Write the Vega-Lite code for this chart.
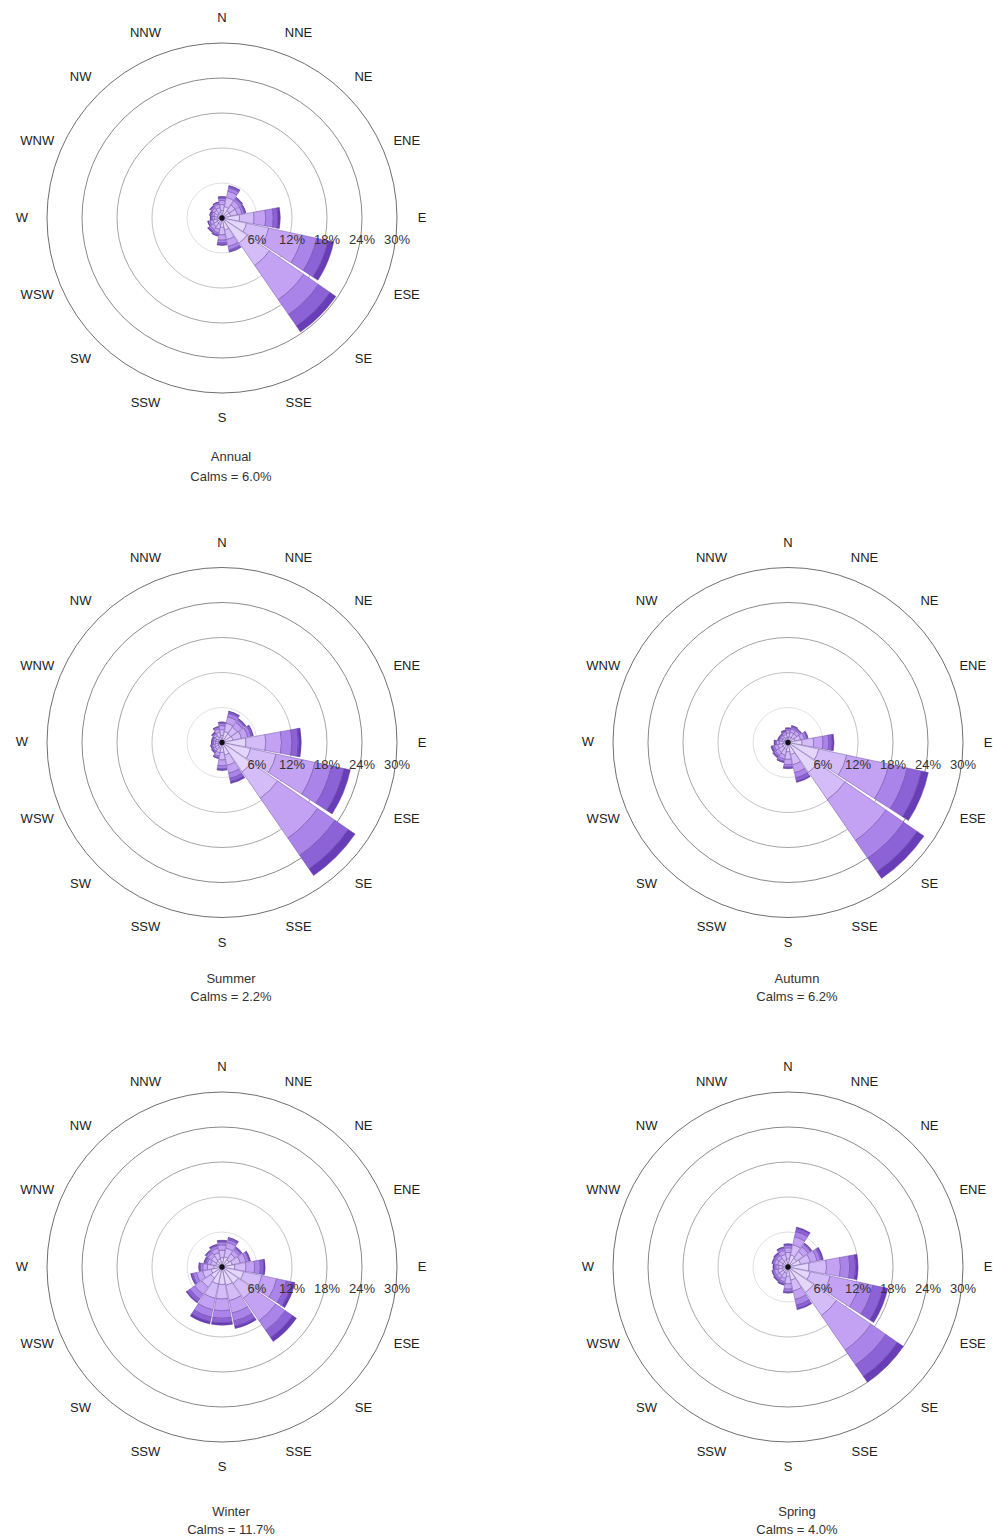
{
  "$schema": "https://vega.github.io/schema/vega-lite/v6.json",
  "padding": 0,
  "background": "white",
  "config": {"view": {"stroke": null}, "font": "Liberation Sans"},
  "columns": 2,
  "spacing": {"row": 88.5, "column": 122},
  "bounds": "flush",
  "datasets": {
    "rose": [
      {"s":"Annual","d":"N","b1":1.3,"b2":1.0,"b3":0.7,"b4":0.4,"b5":0.2,"b6":0.1},
      {"s":"Annual","d":"NNE","b1":2.0,"b2":1.6,"b3":1.1,"b4":0.6,"b5":0.3,"b6":0.1},
      {"s":"Annual","d":"NE","b1":1.5,"b2":1.2,"b3":0.9,"b4":0.4,"b5":0.2,"b6":0.1},
      {"s":"Annual","d":"ENE","b1":1.5,"b2":1.2,"b3":0.8,"b4":0.4,"b5":0.2,"b6":0.1},
      {"s":"Annual","d":"E","b1":3.0,"b2":2.5,"b3":2.0,"b4":1.3,"b5":0.8,"b6":0.4},
      {"s":"Annual","d":"ESE","b1":4.3,"b2":3.9,"b3":5.9,"b4":2.5,"b5":2.0,"b6":1.0},
      {"s":"Annual","d":"SE","b1":5.2,"b2":4.7,"b3":7.1,"b4":3.1,"b5":2.4,"b6":1.2},
      {"s":"Annual","d":"SSE","b1":2.1,"b2":1.7,"b3":1.2,"b4":0.6,"b5":0.3,"b6":0.1},
      {"s":"Annual","d":"S","b1":1.6,"b2":1.3,"b3":0.9,"b4":0.5,"b5":0.3,"b6":0.1},
      {"s":"Annual","d":"SSW","b1":1.1,"b2":0.9,"b3":0.6,"b4":0.3,"b5":0.2,"b6":0.1},
      {"s":"Annual","d":"SW","b1":1.0,"b2":0.8,"b3":0.6,"b4":0.3,"b5":0.2,"b6":0.1},
      {"s":"Annual","d":"WSW","b1":0.9,"b2":0.7,"b3":0.5,"b4":0.3,"b5":0.1,"b6":0.0},
      {"s":"Annual","d":"W","b1":0.7,"b2":0.6,"b3":0.4,"b4":0.2,"b5":0.1,"b6":0.0},
      {"s":"Annual","d":"WNW","b1":0.8,"b2":0.6,"b3":0.4,"b4":0.2,"b5":0.1,"b6":0.1},
      {"s":"Annual","d":"NW","b1":0.9,"b2":0.7,"b3":0.5,"b4":0.3,"b5":0.1,"b6":0.1},
      {"s":"Annual","d":"NNW","b1":1.0,"b2":0.8,"b3":0.6,"b4":0.3,"b5":0.1,"b6":0.0},

      {"s":"Summer","d":"N","b1":1.2,"b2":1.0,"b3":0.7,"b4":0.4,"b5":0.2,"b6":0.0},
      {"s":"Summer","d":"NNE","b1":1.9,"b2":1.5,"b3":1.1,"b4":0.6,"b5":0.3,"b6":0.1},
      {"s":"Summer","d":"NE","b1":1.8,"b2":1.4,"b3":1.0,"b4":0.5,"b5":0.2,"b6":0.1},
      {"s":"Summer","d":"ENE","b1":1.9,"b2":1.5,"b3":1.1,"b4":0.6,"b5":0.3,"b6":0.1},
      {"s":"Summer","d":"E","b1":4.1,"b2":3.4,"b3":2.7,"b4":1.8,"b5":1.1,"b6":0.5},
      {"s":"Summer","d":"ESE","b1":5.0,"b2":4.5,"b3":6.8,"b4":2.9,"b5":2.2,"b6":1.1},
      {"s":"Summer","d":"SE","b1":6.1,"b2":5.5,"b3":8.3,"b4":3.6,"b5":2.8,"b6":1.4},
      {"s":"Summer","d":"SSE","b1":2.2,"b2":1.8,"b3":1.4,"b4":0.9,"b5":0.6,"b6":0.3},
      {"s":"Summer","d":"S","b1":1.7,"b2":1.3,"b3":1.0,"b4":0.5,"b5":0.2,"b6":0.1},
      {"s":"Summer","d":"SSW","b1":1.0,"b2":0.8,"b3":0.6,"b4":0.3,"b5":0.1,"b6":0.0},
      {"s":"Summer","d":"SW","b1":0.8,"b2":0.6,"b3":0.4,"b4":0.2,"b5":0.1,"b6":0.1},
      {"s":"Summer","d":"WSW","b1":0.7,"b2":0.6,"b3":0.4,"b4":0.2,"b5":0.1,"b6":0.0},
      {"s":"Summer","d":"W","b1":0.6,"b2":0.5,"b3":0.4,"b4":0.2,"b5":0.1,"b6":0.0},
      {"s":"Summer","d":"WNW","b1":0.6,"b2":0.5,"b3":0.4,"b4":0.2,"b5":0.1,"b6":0.0},
      {"s":"Summer","d":"NW","b1":0.8,"b2":0.6,"b3":0.4,"b4":0.2,"b5":0.1,"b6":0.1},
      {"s":"Summer","d":"NNW","b1":1.0,"b2":0.8,"b3":0.6,"b4":0.3,"b5":0.1,"b6":0.0},

      {"s":"Autumn","d":"N","b1":0.9,"b2":0.7,"b3":0.5,"b4":0.3,"b5":0.1,"b6":0.0},
      {"s":"Autumn","d":"NNE","b1":1.0,"b2":0.8,"b3":0.6,"b4":0.3,"b5":0.2,"b6":0.1},
      {"s":"Autumn","d":"NE","b1":1.0,"b2":0.8,"b3":0.6,"b4":0.3,"b5":0.1,"b6":0.0},
      {"s":"Autumn","d":"ENE","b1":1.2,"b2":1.0,"b3":0.7,"b4":0.4,"b5":0.2,"b6":0.0},
      {"s":"Autumn","d":"E","b1":2.4,"b2":2.0,"b3":1.6,"b4":1.0,"b5":0.6,"b6":0.3},
      {"s":"Autumn","d":"ESE","b1":5.4,"b2":4.9,"b3":7.4,"b4":3.2,"b5":2.5,"b6":1.2},
      {"s":"Autumn","d":"SE","b1":6.2,"b2":5.7,"b3":8.5,"b4":3.7,"b5":2.8,"b6":1.4},
      {"s":"Autumn","d":"SSE","b1":2.1,"b2":1.8,"b3":1.4,"b4":0.9,"b5":0.6,"b6":0.2},
      {"s":"Autumn","d":"S","b1":1.6,"b2":1.3,"b3":0.9,"b4":0.4,"b5":0.2,"b6":0.1},
      {"s":"Autumn","d":"SSW","b1":1.2,"b2":1.0,"b3":0.7,"b4":0.4,"b5":0.2,"b6":0.0},
      {"s":"Autumn","d":"SW","b1":1.1,"b2":0.9,"b3":0.6,"b4":0.3,"b5":0.2,"b6":0.1},
      {"s":"Autumn","d":"WSW","b1":1.0,"b2":0.8,"b3":0.6,"b4":0.3,"b5":0.2,"b6":0.1},
      {"s":"Autumn","d":"W","b1":0.8,"b2":0.7,"b3":0.5,"b4":0.2,"b5":0.1,"b6":0.1},
      {"s":"Autumn","d":"WNW","b1":0.6,"b2":0.5,"b3":0.4,"b4":0.2,"b5":0.1,"b6":0.0},
      {"s":"Autumn","d":"NW","b1":0.6,"b2":0.5,"b3":0.4,"b4":0.2,"b5":0.1,"b6":0.0},
      {"s":"Autumn","d":"NNW","b1":0.8,"b2":0.6,"b3":0.4,"b4":0.2,"b5":0.1,"b6":0.1},

      {"s":"Winter","d":"N","b1":1.6,"b2":1.3,"b3":0.9,"b4":0.5,"b5":0.2,"b6":0.1},
      {"s":"Winter","d":"NNE","b1":1.8,"b2":1.5,"b3":1.0,"b4":0.5,"b5":0.3,"b6":0.1},
      {"s":"Winter","d":"NE","b1":1.5,"b2":1.2,"b3":0.8,"b4":0.4,"b5":0.2,"b6":0.1},
      {"s":"Winter","d":"ENE","b1":1.8,"b2":1.4,"b3":1.0,"b4":0.5,"b5":0.2,"b6":0.1},
      {"s":"Winter","d":"E","b1":2.2,"b2":1.9,"b3":1.5,"b4":1.0,"b5":0.6,"b6":0.2},
      {"s":"Winter","d":"ESE","b1":3.8,"b2":3.2,"b3":2.6,"b4":1.7,"b5":1.0,"b6":0.5},
      {"s":"Winter","d":"SE","b1":3.4,"b2":3.1,"b3":4.7,"b4":2.0,"b5":1.5,"b6":0.8},
      {"s":"Winter","d":"SSE","b1":3.2,"b2":2.7,"b3":2.2,"b4":1.4,"b5":0.9,"b6":0.4},
      {"s":"Winter","d":"S","b1":3.0,"b2":2.5,"b3":2.0,"b4":1.3,"b5":0.8,"b6":0.4},
      {"s":"Winter","d":"SSW","b1":3.0,"b2":2.5,"b3":2.0,"b4":1.3,"b5":0.8,"b6":0.4},
      {"s":"Winter","d":"SW","b1":2.3,"b2":1.9,"b3":1.5,"b4":1.0,"b5":0.6,"b6":0.2},
      {"s":"Winter","d":"WSW","b1":1.9,"b2":1.5,"b3":1.1,"b4":0.6,"b5":0.3,"b6":0.1},
      {"s":"Winter","d":"W","b1":1.4,"b2":1.1,"b3":0.8,"b4":0.4,"b5":0.2,"b6":0.1},
      {"s":"Winter","d":"WNW","b1":1.1,"b2":0.9,"b3":0.6,"b4":0.3,"b5":0.2,"b6":0.1},
      {"s":"Winter","d":"NW","b1":1.2,"b2":1.0,"b3":0.7,"b4":0.4,"b5":0.2,"b6":0.0},
      {"s":"Winter","d":"NNW","b1":1.4,"b2":1.1,"b3":0.8,"b4":0.4,"b5":0.2,"b6":0.1},

      {"s":"Spring","d":"N","b1":1.4,"b2":1.1,"b3":0.8,"b4":0.4,"b5":0.2,"b6":0.1},
      {"s":"Spring","d":"NNE","b1":2.1,"b2":1.8,"b3":1.4,"b4":0.9,"b5":0.6,"b6":0.2},
      {"s":"Spring","d":"NE","b1":1.8,"b2":1.4,"b3":1.0,"b4":0.5,"b5":0.2,"b6":0.1},
      {"s":"Spring","d":"ENE","b1":2.2,"b2":1.7,"b3":1.2,"b4":0.6,"b5":0.3,"b6":0.2},
      {"s":"Spring","d":"E","b1":3.6,"b2":3.0,"b3":2.4,"b4":1.6,"b5":1.0,"b6":0.4},
      {"s":"Spring","d":"ESE","b1":3.9,"b2":3.5,"b3":5.2,"b4":2.3,"b5":1.8,"b6":0.8},
      {"s":"Spring","d":"SE","b1":5.3,"b2":4.8,"b3":7.2,"b4":3.1,"b5":2.4,"b6":1.2},
      {"s":"Spring","d":"SSE","b1":2.3,"b2":1.9,"b3":1.5,"b4":1.0,"b5":0.6,"b6":0.2},
      {"s":"Spring","d":"S","b1":1.6,"b2":1.3,"b3":0.9,"b4":0.4,"b5":0.2,"b6":0.1},
      {"s":"Spring","d":"SSW","b1":1.1,"b2":0.9,"b3":0.6,"b4":0.3,"b5":0.2,"b6":0.1},
      {"s":"Spring","d":"SW","b1":1.0,"b2":0.8,"b3":0.6,"b4":0.3,"b5":0.2,"b6":0.1},
      {"s":"Spring","d":"WSW","b1":1.0,"b2":0.8,"b3":0.6,"b4":0.3,"b5":0.1,"b6":0.0},
      {"s":"Spring","d":"W","b1":0.9,"b2":0.7,"b3":0.5,"b4":0.3,"b5":0.1,"b6":0.1},
      {"s":"Spring","d":"WNW","b1":1.0,"b2":0.8,"b3":0.6,"b4":0.3,"b5":0.1,"b6":0.0},
      {"s":"Spring","d":"NW","b1":1.0,"b2":0.8,"b3":0.6,"b4":0.3,"b5":0.2,"b6":0.1},
      {"s":"Spring","d":"NNW","b1":1.2,"b2":1.0,"b3":0.7,"b4":0.4,"b5":0.2,"b6":0.0}
    ],
    "rings": [{"p":6,"t":"6%"},{"p":12,"t":"12%"},{"p":18,"t":"18%"},{"p":24,"t":"24%"},{"p":30,"t":"30%"}],
    "dirs": [{"d":"N"},{"d":"NNE"},{"d":"NE"},{"d":"ENE"},{"d":"E"},{"d":"ESE"},{"d":"SE"},{"d":"SSE"},{"d":"S"},{"d":"SSW"},{"d":"SW"},{"d":"WSW"},{"d":"W"},{"d":"WNW"},{"d":"NW"},{"d":"NNW"}]
  },
  "concat": [
    {
      "width": 444, "height": 436,
      "title": {"text": ["Annual", "Calms = 6.0%"], "orient": "bottom", "anchor": "middle", "offset": 15, "dx": 9, "fontSize": 13, "fontWeight": "normal", "color": "#333333", "lineHeight": 20},
      "layer": [
        {"data": {"name": "rings"}, "mark": {"type": "arc", "filled": false, "strokeWidth": 0.8},
         "encoding": {"theta": {"value": 0}, "theta2": {"value": 6.2832},
           "radius": {"field": "p", "type": "quantitative", "stack": null, "scale": {"type": "linear", "domain": [0, 30], "range": [0, 175], "zero": true, "nice": false}},
           "color": {"field": "p", "type": "quantitative", "scale": {"domain": [6, 30], "range": ["#d8d8d8", "#4a4a4a"]}, "legend": null}}},
        {"data": {"name": "rose"},
         "transform": [{"filter": "datum.s === 'Annual'"}, {"fold": ["b1","b2","b3","b4","b5","b6"], "as": ["bin","v"]}, {"stack": "v", "groupby": ["d"], "sort": [{"field": "bin", "order": "ascending"}], "as": ["r0","r1"]}],
         "mark": {"type": "arc", "stroke": "#5a3a96", "strokeWidth": 0.5, "strokeOpacity": 0.8},
         "encoding": {
           "theta": {"field": "d", "type": "nominal", "scale": {"type": "band", "domain": ["N","NNE","NE","ENE","E","ESE","SE","SSE","S","SSW","SW","WSW","W","WNW","NW","NNW"], "range": [-0.19635, 6.08684], "paddingInner": 0.07, "paddingOuter": 0.035}},
           "radius": {"field": "r1", "type": "quantitative", "stack": null, "scale": {"type": "linear", "domain": [0, 30], "range": [0, 175], "zero": true, "nice": false}},
           "radius2": {"field": "r0"},
           "fill": {"field": "bin", "type": "nominal", "scale": {"domain": ["b1","b2","b3","b4","b5","b6"], "range": ["#e4d6fa","#d3bcf7","#c4a2f3","#aa84e8","#8d62d6","#6a3db8"]}, "legend": null}}},
        {"data": {"name": "rings"}, "mark": {"type": "text", "fontSize": 13, "color": "#333333", "dy": 22},
         "encoding": {"theta": {"value": 1.5708}, "radius": {"field": "p", "type": "quantitative", "stack": null}, "text": {"field": "t"}}},
        {"data": {"name": "dirs"}, "mark": {"type": "text", "fontSize": 13, "color": "#222222", "radiusOffset": 25},
         "encoding": {"theta": {"field": "d", "type": "nominal"}, "radius": {"datum": 30}, "text": {"field": "d"}}},
        {"data": {"values": [{"c": 1}]}, "mark": {"type": "circle", "size": 28, "color": "#111111", "opacity": 1}, "encoding": {}}
      ]
    },
    {"width": 444, "height": 436, "data": {"values": []}, "mark": "point", "encoding": {}},
    {
      "width": 444, "height": 436,
      "title": {"text": ["Summer", "Calms = 2.2%"], "orient": "bottom", "anchor": "middle", "offset": 12, "dx": 9, "fontSize": 13, "fontWeight": "normal", "color": "#333333", "lineHeight": 18},
      "layer": [
        {"data": {"name": "rings"}, "mark": {"type": "arc", "filled": false, "strokeWidth": 0.8},
         "encoding": {"theta": {"value": 0}, "theta2": {"value": 6.2832},
           "radius": {"field": "p", "type": "quantitative", "stack": null, "scale": {"type": "linear", "domain": [0, 30], "range": [0, 175], "zero": true, "nice": false}},
           "color": {"field": "p", "type": "quantitative", "scale": {"domain": [6, 30], "range": ["#d8d8d8", "#4a4a4a"]}, "legend": null}}},
        {"data": {"name": "rose"},
         "transform": [{"filter": "datum.s === 'Summer'"}, {"fold": ["b1","b2","b3","b4","b5","b6"], "as": ["bin","v"]}, {"stack": "v", "groupby": ["d"], "sort": [{"field": "bin", "order": "ascending"}], "as": ["r0","r1"]}],
         "mark": {"type": "arc", "stroke": "#5a3a96", "strokeWidth": 0.5, "strokeOpacity": 0.8},
         "encoding": {
           "theta": {"field": "d", "type": "nominal", "scale": {"type": "band", "domain": ["N","NNE","NE","ENE","E","ESE","SE","SSE","S","SSW","SW","WSW","W","WNW","NW","NNW"], "range": [-0.19635, 6.08684], "paddingInner": 0.07, "paddingOuter": 0.035}},
           "radius": {"field": "r1", "type": "quantitative", "stack": null, "scale": {"type": "linear", "domain": [0, 30], "range": [0, 175], "zero": true, "nice": false}},
           "radius2": {"field": "r0"},
           "fill": {"field": "bin", "type": "nominal", "scale": {"domain": ["b1","b2","b3","b4","b5","b6"], "range": ["#e4d6fa","#d3bcf7","#c4a2f3","#aa84e8","#8d62d6","#6a3db8"]}, "legend": null}}},
        {"data": {"name": "rings"}, "mark": {"type": "text", "fontSize": 13, "color": "#333333", "dy": 22},
         "encoding": {"theta": {"value": 1.5708}, "radius": {"field": "p", "type": "quantitative", "stack": null}, "text": {"field": "t"}}},
        {"data": {"name": "dirs"}, "mark": {"type": "text", "fontSize": 13, "color": "#222222", "radiusOffset": 25},
         "encoding": {"theta": {"field": "d", "type": "nominal"}, "radius": {"datum": 30}, "text": {"field": "d"}}},
        {"data": {"values": [{"c": 1}]}, "mark": {"type": "circle", "size": 28, "color": "#111111", "opacity": 1}, "encoding": {}}
      ]
    },
    {
      "width": 444, "height": 436,
      "title": {"text": ["Autumn", "Calms = 6.2%"], "orient": "bottom", "anchor": "middle", "offset": 12, "dx": 9, "fontSize": 13, "fontWeight": "normal", "color": "#333333", "lineHeight": 18},
      "layer": [
        {"data": {"name": "rings"}, "mark": {"type": "arc", "filled": false, "strokeWidth": 0.8},
         "encoding": {"theta": {"value": 0}, "theta2": {"value": 6.2832},
           "radius": {"field": "p", "type": "quantitative", "stack": null, "scale": {"type": "linear", "domain": [0, 30], "range": [0, 175], "zero": true, "nice": false}},
           "color": {"field": "p", "type": "quantitative", "scale": {"domain": [6, 30], "range": ["#d8d8d8", "#4a4a4a"]}, "legend": null}}},
        {"data": {"name": "rose"},
         "transform": [{"filter": "datum.s === 'Autumn'"}, {"fold": ["b1","b2","b3","b4","b5","b6"], "as": ["bin","v"]}, {"stack": "v", "groupby": ["d"], "sort": [{"field": "bin", "order": "ascending"}], "as": ["r0","r1"]}],
         "mark": {"type": "arc", "stroke": "#5a3a96", "strokeWidth": 0.5, "strokeOpacity": 0.8},
         "encoding": {
           "theta": {"field": "d", "type": "nominal", "scale": {"type": "band", "domain": ["N","NNE","NE","ENE","E","ESE","SE","SSE","S","SSW","SW","WSW","W","WNW","NW","NNW"], "range": [-0.19635, 6.08684], "paddingInner": 0.07, "paddingOuter": 0.035}},
           "radius": {"field": "r1", "type": "quantitative", "stack": null, "scale": {"type": "linear", "domain": [0, 30], "range": [0, 175], "zero": true, "nice": false}},
           "radius2": {"field": "r0"},
           "fill": {"field": "bin", "type": "nominal", "scale": {"domain": ["b1","b2","b3","b4","b5","b6"], "range": ["#e4d6fa","#d3bcf7","#c4a2f3","#aa84e8","#8d62d6","#6a3db8"]}, "legend": null}}},
        {"data": {"name": "rings"}, "mark": {"type": "text", "fontSize": 13, "color": "#333333", "dy": 22},
         "encoding": {"theta": {"value": 1.5708}, "radius": {"field": "p", "type": "quantitative", "stack": null}, "text": {"field": "t"}}},
        {"data": {"name": "dirs"}, "mark": {"type": "text", "fontSize": 13, "color": "#222222", "radiusOffset": 25},
         "encoding": {"theta": {"field": "d", "type": "nominal"}, "radius": {"datum": 30}, "text": {"field": "d"}}},
        {"data": {"values": [{"c": 1}]}, "mark": {"type": "circle", "size": 28, "color": "#111111", "opacity": 1}, "encoding": {}}
      ]
    },
    {
      "width": 444, "height": 436,
      "title": {"text": ["Winter", "Calms = 11.7%"], "orient": "bottom", "anchor": "middle", "offset": 21, "dx": 9, "fontSize": 13, "fontWeight": "normal", "color": "#333333", "lineHeight": 18},
      "layer": [
        {"data": {"name": "rings"}, "mark": {"type": "arc", "filled": false, "strokeWidth": 0.8},
         "encoding": {"theta": {"value": 0}, "theta2": {"value": 6.2832},
           "radius": {"field": "p", "type": "quantitative", "stack": null, "scale": {"type": "linear", "domain": [0, 30], "range": [0, 175], "zero": true, "nice": false}},
           "color": {"field": "p", "type": "quantitative", "scale": {"domain": [6, 30], "range": ["#d8d8d8", "#4a4a4a"]}, "legend": null}}},
        {"data": {"name": "rose"},
         "transform": [{"filter": "datum.s === 'Winter'"}, {"fold": ["b1","b2","b3","b4","b5","b6"], "as": ["bin","v"]}, {"stack": "v", "groupby": ["d"], "sort": [{"field": "bin", "order": "ascending"}], "as": ["r0","r1"]}],
         "mark": {"type": "arc", "stroke": "#5a3a96", "strokeWidth": 0.5, "strokeOpacity": 0.8},
         "encoding": {
           "theta": {"field": "d", "type": "nominal", "scale": {"type": "band", "domain": ["N","NNE","NE","ENE","E","ESE","SE","SSE","S","SSW","SW","WSW","W","WNW","NW","NNW"], "range": [-0.19635, 6.08684], "paddingInner": 0.07, "paddingOuter": 0.035}},
           "radius": {"field": "r1", "type": "quantitative", "stack": null, "scale": {"type": "linear", "domain": [0, 30], "range": [0, 175], "zero": true, "nice": false}},
           "radius2": {"field": "r0"},
           "fill": {"field": "bin", "type": "nominal", "scale": {"domain": ["b1","b2","b3","b4","b5","b6"], "range": ["#e4d6fa","#d3bcf7","#c4a2f3","#aa84e8","#8d62d6","#6a3db8"]}, "legend": null}}},
        {"data": {"name": "rings"}, "mark": {"type": "text", "fontSize": 13, "color": "#333333", "dy": 22},
         "encoding": {"theta": {"value": 1.5708}, "radius": {"field": "p", "type": "quantitative", "stack": null}, "text": {"field": "t"}}},
        {"data": {"name": "dirs"}, "mark": {"type": "text", "fontSize": 13, "color": "#222222", "radiusOffset": 25},
         "encoding": {"theta": {"field": "d", "type": "nominal"}, "radius": {"datum": 30}, "text": {"field": "d"}}},
        {"data": {"values": [{"c": 1}]}, "mark": {"type": "circle", "size": 28, "color": "#111111", "opacity": 1}, "encoding": {}}
      ]
    },
    {
      "width": 444, "height": 436,
      "title": {"text": ["Spring", "Calms = 4.0%"], "orient": "bottom", "anchor": "middle", "offset": 21, "dx": 9, "fontSize": 13, "fontWeight": "normal", "color": "#333333", "lineHeight": 18},
      "layer": [
        {"data": {"name": "rings"}, "mark": {"type": "arc", "filled": false, "strokeWidth": 0.8},
         "encoding": {"theta": {"value": 0}, "theta2": {"value": 6.2832},
           "radius": {"field": "p", "type": "quantitative", "stack": null, "scale": {"type": "linear", "domain": [0, 30], "range": [0, 175], "zero": true, "nice": false}},
           "color": {"field": "p", "type": "quantitative", "scale": {"domain": [6, 30], "range": ["#d8d8d8", "#4a4a4a"]}, "legend": null}}},
        {"data": {"name": "rose"},
         "transform": [{"filter": "datum.s === 'Spring'"}, {"fold": ["b1","b2","b3","b4","b5","b6"], "as": ["bin","v"]}, {"stack": "v", "groupby": ["d"], "sort": [{"field": "bin", "order": "ascending"}], "as": ["r0","r1"]}],
         "mark": {"type": "arc", "stroke": "#5a3a96", "strokeWidth": 0.5, "strokeOpacity": 0.8},
         "encoding": {
           "theta": {"field": "d", "type": "nominal", "scale": {"type": "band", "domain": ["N","NNE","NE","ENE","E","ESE","SE","SSE","S","SSW","SW","WSW","W","WNW","NW","NNW"], "range": [-0.19635, 6.08684], "paddingInner": 0.07, "paddingOuter": 0.035}},
           "radius": {"field": "r1", "type": "quantitative", "stack": null, "scale": {"type": "linear", "domain": [0, 30], "range": [0, 175], "zero": true, "nice": false}},
           "radius2": {"field": "r0"},
           "fill": {"field": "bin", "type": "nominal", "scale": {"domain": ["b1","b2","b3","b4","b5","b6"], "range": ["#e4d6fa","#d3bcf7","#c4a2f3","#aa84e8","#8d62d6","#6a3db8"]}, "legend": null}}},
        {"data": {"name": "rings"}, "mark": {"type": "text", "fontSize": 13, "color": "#333333", "dy": 22},
         "encoding": {"theta": {"value": 1.5708}, "radius": {"field": "p", "type": "quantitative", "stack": null}, "text": {"field": "t"}}},
        {"data": {"name": "dirs"}, "mark": {"type": "text", "fontSize": 13, "color": "#222222", "radiusOffset": 25},
         "encoding": {"theta": {"field": "d", "type": "nominal"}, "radius": {"datum": 30}, "text": {"field": "d"}}},
        {"data": {"values": [{"c": 1}]}, "mark": {"type": "circle", "size": 28, "color": "#111111", "opacity": 1}, "encoding": {}}
      ]
    }
  ]
}
